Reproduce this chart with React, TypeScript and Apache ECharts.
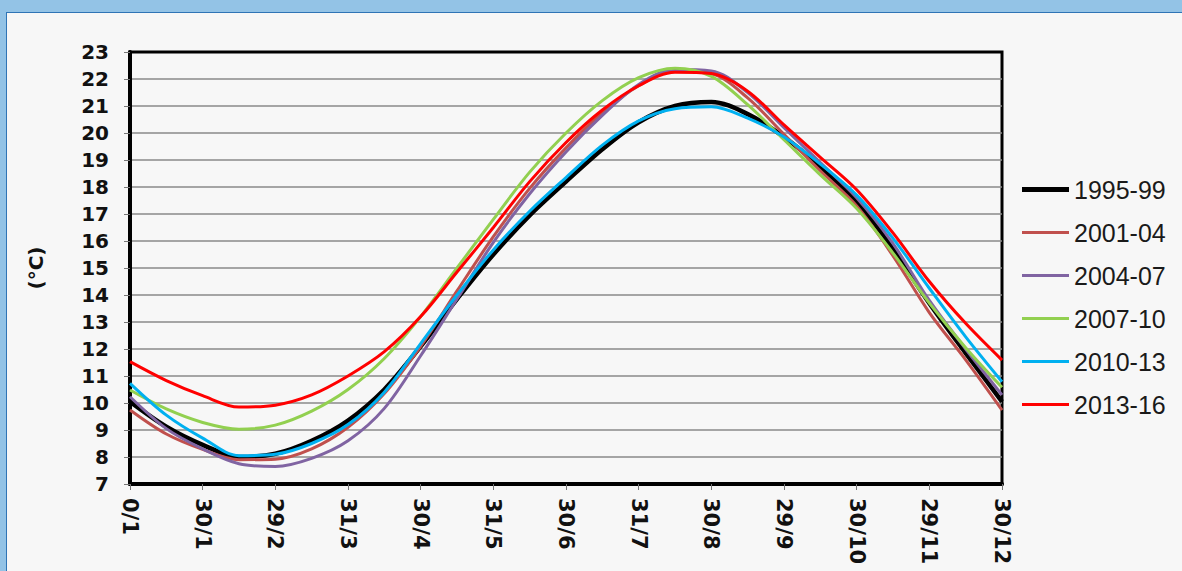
import React, { useEffect, useRef } from "react";
import * as echarts from "echarts";

const monthLabels = ["0/1", "30/1", "29/2", "31/3", "30/4", "31/5", "30/6", "31/7", "30/8", "29/9", "30/10", "29/11", "30/12"];
// sample positions in months (half-month steps)
const xPos = [0, 0.5, 1, 1.5, 2, 2.5, 3, 3.5, 4, 4.5, 5, 5.5, 6, 6.5, 7, 7.5, 8, 8.5, 9, 9.5, 10, 10.5, 11, 11.5, 12];

const s1995 = [10.05, 9.12, 8.45, 8.0, 8.12, 8.6, 9.35, 10.5, 12.1, 13.85, 15.5, 16.95, 18.2, 19.4, 20.4, 21.0, 21.15, 20.7, 19.85, 18.75, 17.45, 15.7, 13.7, 11.85, 10.05];
const s2001 = [9.74, 8.85, 8.28, 7.9, 7.92, 8.3, 9.1, 10.35, 12.1, 14.15, 16.16, 17.95, 19.45, 20.75, 21.75, 22.3, 22.2, 21.3, 19.95, 18.6, 17.3, 15.45, 13.35, 11.6, 9.74];
const s2004 = [10.23, 9.05, 8.3, 7.75, 7.65, 7.95, 8.6, 9.8, 11.75, 13.85, 15.95, 17.75, 19.3, 20.65, 21.8, 22.35, 22.3, 21.5, 20.2, 18.9, 17.6, 15.9, 13.8, 12.0, 10.3];
const s2007 = [10.48, 9.78, 9.28, 9.03, 9.18, 9.7, 10.5, 11.65, 13.2, 15.0, 16.8, 18.55, 20.0, 21.2, 22.05, 22.4, 22.1, 21.05, 19.75, 18.45, 17.2, 15.55, 13.7, 12.05, 10.58];
const s2010 = [10.73, 9.55, 8.7, 8.05, 8.1, 8.5, 9.2, 10.4, 12.2, 14.0, 15.67, 17.1, 18.35, 19.55, 20.45, 20.9, 20.97, 20.55, 19.85, 18.85, 17.7, 16.1, 14.25, 12.45, 10.79];
const s2013 = [11.53, 10.83, 10.27, 9.85, 9.92, 10.3, 11.0, 11.9, 13.2, 14.85, 16.5, 18.2, 19.65, 20.85, 21.75, 22.25, 22.2, 21.55, 20.3, 19.1, 17.9, 16.3, 14.5, 12.95, 11.59];

const seriesNames = ["1995-99", "2001-04", "2004-07", "2007-10", "2010-13", "2013-16"];
const seriesValues = [s1995, s2001, s2004, s2007, s2010, s2013];
const seriesColors = ["#000000", "#c0504d", "#8064a2", "#92d050", "#00b0f0", "#ff0000"];
const seriesWidths = [4.5, 3, 3, 3, 3, 3];

export default function App() {
  const ref = useRef<HTMLDivElement>(null);
  useEffect(() => {
    if (!ref.current) return;
    const chart = echarts.init(ref.current, undefined, { renderer: "svg" });
    chart.setOption({
      animation: false,
      grid: {
        left: 130,
        right: 180,
        top: 52,
        bottom: 87,
        show: true,
        borderColor: "#000",
        borderWidth: 3,
        backgroundColor: "transparent",
      },
      legend: {
        orient: "vertical",
        left: 1017,
        top: 172,
        itemWidth: 47,
        itemHeight: 14,
        itemGap: 18,
        textStyle: { fontFamily: "Liberation Sans", fontSize: 25, color: "#1a1a1a" },
        data: seriesNames.map((n, i) => ({
          name: n,
          icon: i === 0 ? "path://M0,0h48v5h-48z" : "path://M0,0h48v3h-48z",
        })),
      },
      xAxis: {
        type: "value",
        min: 0,
        max: 12,
        interval: 1,
        axisLine: { show: true, lineStyle: { color: "#000", width: 4 } },
        axisTick: { show: true, length: 6, lineStyle: { color: "#777" } },
        splitLine: { show: false },
        axisLabel: {
          rotate: -90,
          margin: 14,
          fontFamily: "DejaVu Sans",
          fontWeight: "bold",
          fontSize: 21,
          color: "#111",
          formatter: (v: number) => monthLabels[Math.round(v)] ?? "",
        },
      },
      yAxis: {
        type: "value",
        min: 7,
        max: 23,
        interval: 1,
        name: "(°C)",
        nameLocation: "middle",
        nameRotate: 90,
        nameGap: 84,
        nameTextStyle: { fontFamily: "DejaVu Sans", fontWeight: "bold", fontSize: 20, color: "#111" },
        axisLine: { show: true, lineStyle: { color: "#000", width: 4 } },
        axisTick: { show: true, length: 6, lineStyle: { color: "#777" } },
        splitLine: { show: true, showMinLine: false, showMaxLine: false, lineStyle: { color: "#8a8a8a", width: 1.5 } },
        axisLabel: {
          margin: 21,
          fontFamily: "DejaVu Sans",
          fontWeight: "bold",
          fontSize: 20,
          color: "#111",
        },
      },
      series: seriesNames.map((name, i) => ({
        name,
        type: "line",
        smooth: 0.33,
        symbol: "none",
        data: xPos.map((x, j) => [x, seriesValues[i][j]]),
        lineStyle: { color: seriesColors[i], width: seriesWidths[i] },
        itemStyle: { color: seriesColors[i] },
      })),
    });
    return () => chart.dispose();
  }, []);

  return (
    <div style={{ position: "fixed", left: 0, top: 0, width: 1182, height: 571, background: "#93c3e6", overflow: "hidden" }}>
      <div style={{ position: "absolute", left: 6, top: 12, right: 0, bottom: 0, background: "#f7f7f7", borderLeft: "1px solid #2f74b5", borderTop: "1px solid #2f74b5" }} />
      <div ref={ref} style={{ position: "absolute", left: 0, top: 0, width: 1182, height: 571 }} />
    </div>
  );
}
